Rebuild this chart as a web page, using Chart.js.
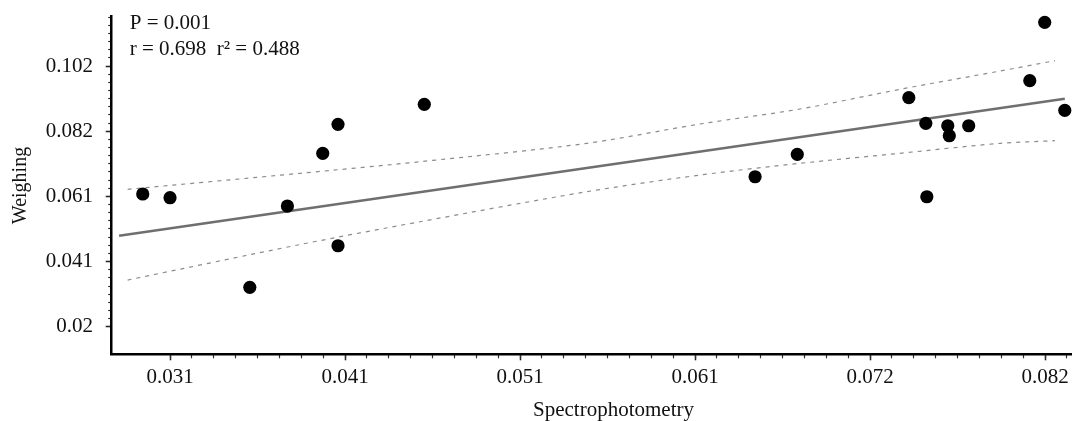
<!DOCTYPE html>
<html>
<head>
<meta charset="utf-8">
<script src="https://cdn.jsdelivr.net/npm/chart.js@4.4.1/dist/chart.umd.min.js"></script>
<style>
  html, body { margin: 0; padding: 0; background: #fff; }
  canvas { display: block; }
</style>
</head>
<body>
<canvas id="grafica" width="1078" height="421"></canvas>
<script>
// Puntos (x = espectrofotometría, y = pesada)
const spectro  = [0.02921, 0.03080, 0.03545, 0.03764, 0.03970, 0.04059, 0.04059, 0.04562, 0.06490, 0.06736,
                  0.07386, 0.07485, 0.07491, 0.07613, 0.07622, 0.07735, 0.08091, 0.08178, 0.08295];
const weighing = [0.06194, 0.06078, 0.03273, 0.05818, 0.07468, 0.08375, 0.04575, 0.09001, 0.06735, 0.07436,
                  0.09208, 0.08407, 0.06109, 0.08331, 0.08018, 0.08331, 0.09740, 0.11568, 0.08813];

// Recta de regresión (extremos)
const fitX = [0.02783, 0.08295];
const fitY = [0.04888, 0.09176];

// Bandas de confianza (leídas a lo largo de la curva)
const bandX  = [0.02833, 0.03838, 0.04537, 0.05509, 0.06169, 0.06752, 0.07335, 0.07918, 0.08238];
const upperY = [0.06341, 0.06842, 0.07205, 0.07780, 0.08385, 0.08854, 0.09471, 0.10043, 0.10366];
const lowerY = [0.03502, 0.04613, 0.05327, 0.06266, 0.06788, 0.07155, 0.07468, 0.07780, 0.07862];

// Ejes
const xTickValues = [0.0308, 0.0410, 0.0512, 0.0614, 0.0716, 0.0818];
const xTickLabels = ["0.031", "0.041", "0.051", "0.061", "0.072", "0.082"];
const yTickValues = [0.0204, 0.0408, 0.0612, 0.0816, 0.1020];
const yTickLabels = ["0.02", "0.041", "0.061", "0.082", "0.102"];
const xLimits = [0.02740, 0.08333];
const yLimits = [0.01178, 0.11743];

const xTitle = "Spectrophotometry";
const yTitle = "Weighing";
const statsText = ["P = 0.001", "r = 0.698  r\u00B2 = 0.488"];

const SERIF = "'Liberation Serif', 'Times New Roman', serif";

function pares(xs, ys) {
  return xs.map((x, i) => ({ x: x, y: ys[i] }));
}

// marcas menores: 8 subdivisiones entre marcas principales
function menores(ticks, max) {
  const paso = (ticks[1] - ticks[0]) / 8;
  const out = [];
  for (let k = 0; ticks[0] + k * paso <= max + 1e-9; k++) {
    out.push({ value: ticks[0] + k * paso });
  }
  return out;
}

// tamaño fijo del eje, sin el relleno extra que Chart.js deja para las etiquetas
function fijar(tam) {
  return s => {
    if (s.isHorizontal()) s.height = tam; else s.width = tam;
    s.paddingTop = 0; s.paddingBottom = 0; s.paddingLeft = 0; s.paddingRight = 0;
  };
}

const textos = {
  id: "textos",
  afterDraw(chart) {
    const { ctx, chartArea } = chart;
    ctx.save();
    ctx.fillStyle = "#111";
    ctx.font = "21px " + SERIF;
    ctx.textAlign = "left";
    ctx.textBaseline = "alphabetic";
    ctx.fillText(statsText[0], chartArea.left + 18, 28.5);
    ctx.fillText(statsText[1], chartArea.left + 18, 54.5);
    ctx.textAlign = "center";
    ctx.fillText(xTitle, (chartArea.left + chartArea.right) / 2 + 22, 416);
    ctx.restore();
  }
};

const ctx = document.getElementById("grafica").getContext("2d");

const chart = new Chart(ctx, {
  type: "scatter",
  data: {
    datasets: [
      {
        data: pares(spectro, weighing),
        backgroundColor: "#000",
        borderWidth: 0,
        pointRadius: 6.6,
        pointHoverRadius: 6.6,
        clip: false
      },
      {
        data: pares(fitX, fitY),
        showLine: true,
        borderColor: "#6f6f6f",
        borderWidth: 2.6,
        pointRadius: 0
      },
      {
        data: pares(bandX, upperY),
        showLine: true,
        borderColor: "#8c8c8c",
        borderWidth: 1.2,
        borderDash: [4, 5],
        pointRadius: 0,
        tension: 0.3
      },
      {
        data: pares(bandX, lowerY),
        showLine: true,
        borderColor: "#8c8c8c",
        borderWidth: 1.2,
        borderDash: [4, 5],
        pointRadius: 0,
        tension: 0.3
      }
    ]
  },
  options: {
    responsive: false,
    devicePixelRatio: 1,
    animation: false,
    events: [],
    layout: { padding: { top: 16.7, right: 6.7, left: 0, bottom: 0 } },
    plugins: {
      legend: { display: false },
      tooltip: { enabled: false }
    },
    scales: {
      x: {
        type: "linear",
        position: "bottom",
        weight: 1,
        min: xLimits[0],
        max: xLimits[1],
        afterBuildTicks: s => { s.ticks = xTickValues.map(v => ({ value: v })); },
        afterFit: fijar(66.7),
        ticks: {
          callback: (v, i) => xTickLabels[i],
          font: { family: SERIF, size: 21 },
          color: "#111",
          padding: 5,
          maxRotation: 0,
          autoSkip: false
        },
        grid: { drawOnChartArea: false, tickLength: 6, tickColor: "#222", tickWidth: 1.5 },
        border: { color: "#000", width: 2.5 }
      },
      xMenor: {
        type: "linear",
        position: "bottom",
        weight: 0,
        min: xLimits[0],
        max: xLimits[1],
        afterBuildTicks: s => { s.ticks = menores(xTickValues, xLimits[1]); },
        afterFit: fijar(0),
        ticks: { display: false },
        grid: { drawOnChartArea: false, tickLength: 4, tickColor: "#333", tickWidth: 1.2 },
        border: { display: false }
      },
      y: {
        type: "linear",
        position: "left",
        weight: 1,
        min: yLimits[0],
        max: yLimits[1],
        afterBuildTicks: s => { s.ticks = yTickValues.map(v => ({ value: v })); },
        afterFit: fijar(111.7),
        ticks: {
          callback: (v, i) => yTickLabels[i],
          font: { family: SERIF, size: 21 },
          color: "#111",
          padding: 12.7,
          autoSkip: false
        },
        title: {
          display: true,
          text: yTitle,
          font: { family: SERIF, size: 20 },
          color: "#111",
          padding: { top: 9, bottom: 0 }
        },
        grid: { drawOnChartArea: false, tickLength: 6, tickColor: "#222", tickWidth: 1.5 },
        border: { color: "#000", width: 2.5 }
      },
      yMenor: {
        type: "linear",
        position: "left",
        weight: 0,
        min: yLimits[0],
        max: yLimits[1],
        afterBuildTicks: s => { s.ticks = menores(yTickValues, yLimits[1]); },
        afterFit: fijar(0),
        ticks: { display: false },
        grid: { drawOnChartArea: false, tickLength: 3.5, tickColor: "#333", tickWidth: 1.2 },
        border: { display: false }
      }
    }
  },
  plugins: [textos]
});
</script>
</body>
</html>
